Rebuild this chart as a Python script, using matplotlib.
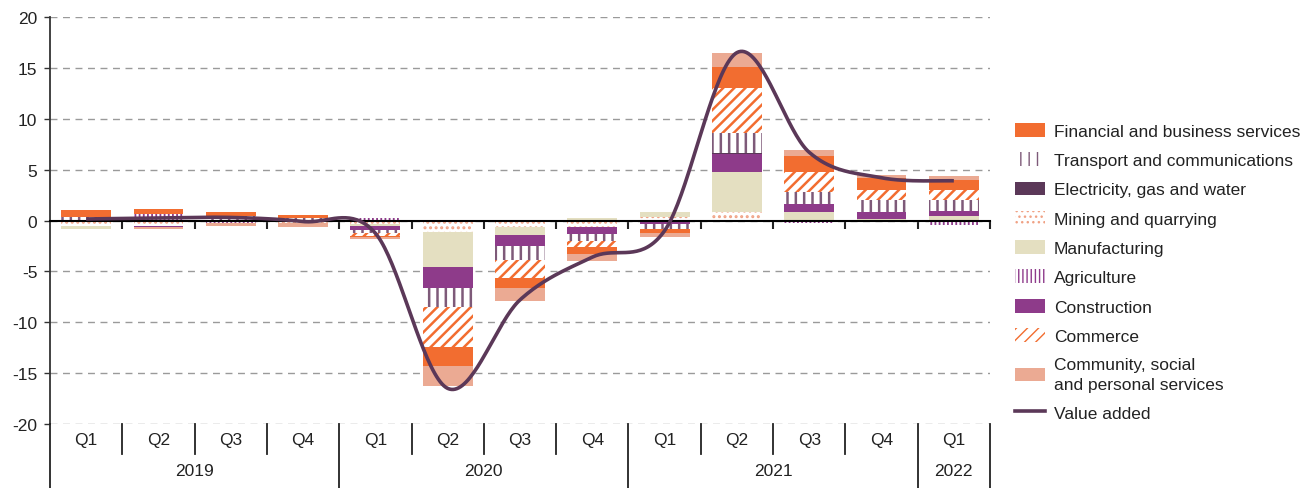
import matplotlib
matplotlib.use("Agg")
import matplotlib.pyplot as plt
import matplotlib.transforms as mtransforms
from matplotlib.patches import Patch
from matplotlib.lines import Line2D
import numpy as np

plt.rcParams['font.family'] = ['Liberation Sans', 'DejaVu Sans']
plt.rcParams['axes.unicode_minus'] = False

quarters = ["Q1", "Q2", "Q3", "Q4", "Q1", "Q2", "Q3", "Q4", "Q1", "Q2", "Q3", "Q4", "Q1"]
years = ["2019", "2020", "2021", "2022"]
year_span = [4, 4, 4, 1]

mining        = [-0.55, -0.5, 0.0, -0.2, -0.35, -1.1, -0.65, -0.6, 0.35, 0.8, 0.0, -0.1, 0.0]
manufacturing = [-0.3, 0.0, 0.0, 0.0, -0.2, -3.5, -0.75, 0.25, 0.5, 3.95, 0.8, 0.15, 0.4]
agriculture   = [0.0, 0.6, -0.2, 0.0, 0.2, 0.0, 0.0, 0.0, 0.0, 0.0, -0.25, 0.0, -0.4]
construction  = [0.0, -0.15, 0.0, 0.0, -0.4, -2.0, -1.15, -0.75, -0.3, 1.8, 0.8, 0.65, 0.5]
electricity   = [0.0, 0.0, 0.0, 0.0, 0.0, 0.0, 0.0, 0.0, 0.0, 0.05, 0.0, 0.0, 0.0]
transport     = [0.3, 0.0, 0.4, 0.2, -0.25, -1.9, -1.3, -0.7, -0.55, 2.0, 1.2, 1.2, 1.1]
commerce      = [0.0, 0.0, 0.0, 0.0, -0.3, -3.9, -1.8, -0.55, 0.0, 4.45, 2.0, 1.0, 1.0]
financial     = [0.75, 0.55, 0.4, 0.35, -0.15, -1.9, -1.0, -0.65, -0.35, 2.05, 1.5, 1.2, 1.0]
community     = [0.0, -0.2, -0.3, -0.4, -0.2, -2.0, -1.25, -0.7, -0.45, 1.4, 0.6, 0.25, 0.35]
value_added   = [0.15, 0.25, 0.3, -0.1, -1.25, -16.5, -7.8, -3.6, -1.0, 16.5, 6.7, 4.2, 3.9]

C_FIN = '#F26D30'
C_TRA = '#7E5A79'
C_ELE = '#5B3858'
C_MIN = '#F0A285'
C_MAN = '#E4DFC1'
C_AGR = '#8E3B8B'
C_CON = '#8E3B8A'
C_COM = '#F26D30'
C_CSP = '#EBAA93'
C_LINE = '#5B3858'

# name, values, face, hatch, hatch colour, hatch lw
series = [
    ("Mining and quarrying", mining, 'white', '...', C_MIN, 1.4),
    ("Manufacturing", manufacturing, C_MAN, None, None, 1.0),
    ("Agriculture", agriculture, 'white', '||||', C_AGR, 1.3),
    ("Construction", construction, C_CON, None, None, 1.0),
    ("Electricity, gas and water", electricity, C_ELE, None, None, 1.0),
    ("Transport and communications", transport, 'white', '||', C_TRA, 1.8),
    ("Commerce", commerce, 'white', '///', C_COM, 1.8),
    ("Financial and business services", financial, C_FIN, None, None, 1.0),
    ("Community, social\nand personal services", community, C_CSP, None, None, 1.0),
]

fig = plt.figure(figsize=(13.06, 4.89), dpi=100)
ax = fig.add_axes([50/1306, 1-425/489, 940/1306, 407/489])

x = np.arange(len(quarters))
width = 0.69
pos_base = np.zeros(len(x))
neg_base = np.zeros(len(x))
handles = {}
for name, vals, face, hatch, hcol, hlw in series:
    v = np.array(vals, dtype=float)
    bottoms = np.where(v >= 0, pos_base, neg_base)
    plt.rcParams['hatch.linewidth'] = hlw
    if hatch:
        ax.bar(x, v, width, bottom=bottoms, color='white', edgecolor=hcol,
               hatch=hatch, linewidth=0, zorder=2)
        handles[name] = Patch(facecolor='white', edgecolor=hcol, hatch=hatch, linewidth=0)
    else:
        ax.bar(x, v, width, bottom=bottoms, color=face, linewidth=0, zorder=2)
        handles[name] = Patch(facecolor=face, linewidth=0)
    pos_base = pos_base + np.where(v >= 0, v, 0)
    neg_base = neg_base + np.where(v < 0, v, 0)

# smooth line (Bezier through points, Excel-like smoothing)
P = np.column_stack([x, value_added]).astype(float)
pts = []
n = len(P)
for i in range(n - 1):
    p0 = P[i - 1] if i > 0 else P[i]
    p1 = P[i]
    p2 = P[i + 1]
    p3 = P[i + 2] if i + 2 < n else P[i + 1]
    c1 = p1 + (p2 - p0) / 6
    c2 = p2 - (p3 - p1) / 6
    t = np.linspace(0, 1, 40)[:, None]
    seg = (1-t)**3*p1 + 3*(1-t)**2*t*c1 + 3*(1-t)*t**2*c2 + t**3*p2
    pts.append(seg if i == 0 else seg[1:])
curve = np.vstack(pts)
ax.plot(curve[:, 0], curve[:, 1], color=C_LINE, lw=2.6, zorder=4, solid_capstyle='butt')
line_handle = Line2D([0], [0], color=C_LINE, lw=2.6)

ax.set_xlim(-0.5, len(x) - 0.5)
ax.set_ylim(-20, 20)
ax.set_yticks(np.arange(-20, 21, 5))
ax.yaxis.grid(True, color='#9a9a9a', linestyle=(0, (5, 4)), linewidth=1.0, zorder=0)
ax.set_axisbelow(True)
for s in ['top', 'right']:
    ax.spines[s].set_visible(False)
ax.spines['left'].set_color('#333333')
ax.spines['left'].set_linewidth(1.3)
ax.spines['bottom'].set_position(('data', 0))
ax.spines['bottom'].set_color('black')
ax.spines['bottom'].set_linewidth(1.5)
ax.spines['bottom'].set_zorder(3)
ax.set_xticks(np.arange(0.5, len(x), 1))
ax.set_xticklabels([])
ax.tick_params(axis='x', direction='out', length=6, width=1.5, color='#222222')
ax.tick_params(axis='y', direction='out', length=4, width=1.0, color='#333333',
               labelsize=12.5, labelcolor='#222222', pad=5)

# category table under the plot
trans = mtransforms.blended_transform_factory(ax.transData, ax.transAxes)
qbot = -30/407
ybot = -64/407
year_bounds = np.cumsum([0] + year_span) - 0.5
for k in range(len(x) + 1):
    xb = k - 0.5
    long = np.any(np.isclose(year_bounds, xb))
    ax.plot([xb, xb], [0, ybot if long else qbot], transform=trans, color='#222222',
            lw=1.3, clip_on=False, zorder=5)
for i, q in enumerate(quarters):
    ax.text(i, -16/407, q, transform=trans, ha='center', va='center', fontsize=12.5,
            color='#222222')
for j, yl in enumerate(years):
    xc = (year_bounds[j] + year_bounds[j + 1]) / 2
    ax.text(xc, -47/407, yl, transform=trans, ha='center', va='center', fontsize=12.5,
            color='#222222')

legend_order = ["Financial and business services", "Transport and communications",
                "Electricity, gas and water", "Mining and quarrying", "Manufacturing",
                "Agriculture", "Construction", "Commerce",
                "Community, social\nand personal services"]
hl = [handles[nm] for nm in legend_order] + [line_handle]
lb = legend_order + ["Value added"]
leg = fig.legend(hl, lb, loc='upper left', bbox_to_anchor=(1008/1306, 1-117/489),
                 frameon=False, fontsize=12.5, handlelength=1.75, handleheight=0.85,
                 labelspacing=0.77, handletextpad=0.5, borderaxespad=0)
for t in leg.get_texts():
    t.set_color('#222222')
    t.set_linespacing(1.35)

fig.savefig("out.png", dpi=100)
